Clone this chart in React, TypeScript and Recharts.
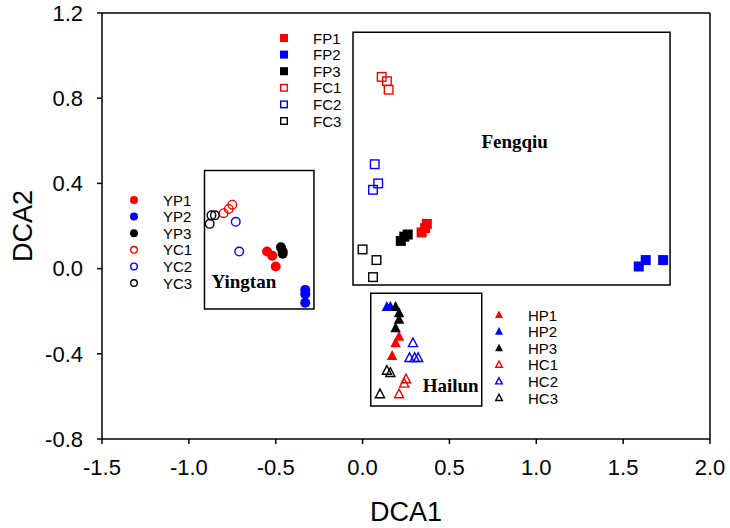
import React from "react"
import {
    ScatterChart,
    Scatter,
    XAxis,
    YAxis,
    ReferenceArea,
    ReferenceLine,
} from "recharts"

type Pt = { x: number; y: number }
const pts = (arr: number[][]): Pt[] => arr.map(([x, y]) => ({ x, y }))

// axis ticks
const xTicks = [-1.5, -1.0, -0.5, 0.0, 0.5, 1.0, 1.5, 2.0]
const yTicks = [-0.8, -0.4, 0.0, 0.4, 0.8, 1.2]

// Yingtan
const YP1 = pts([[-0.55, 0.08], [-0.52, 0.06], [-0.5, 0.01]])
const YP2 = pts([[-0.33, -0.1], [-0.33, -0.12], [-0.33, -0.16]])
const YP3 = pts([[-0.47, 0.1], [-0.46, 0.08], [-0.46, 0.07]])
const YC1 = pts([[-0.75, 0.3], [-0.77, 0.28], [-0.8, 0.26]])
const YC2 = pts([[-0.73, 0.22], [-0.71, 0.08]])
const YC3 = pts([[-0.88, 0.21], [-0.87, 0.25], [-0.85, 0.25]])

// Fengqiu
const FP1 = pts([[0.34, 0.17], [0.36, 0.19], [0.37, 0.21]])
const FP2 = pts([[1.59, 0.01], [1.63, 0.04], [1.73, 0.04]])
const FP3 = pts([[0.22, 0.13], [0.24, 0.15], [0.26, 0.16]])
const FC1 = pts([[0.11, 0.9], [0.14, 0.88], [0.15, 0.84]])
const FC2 = pts([[0.07, 0.49], [0.09, 0.4], [0.06, 0.37]])
const FC3 = pts([[0.0, 0.09], [0.08, 0.04], [0.06, -0.04]])

// Hailun
const HP1 = pts([[0.21, -0.32], [0.19, -0.35], [0.17, -0.41]])
const HP2 = pts([[0.14, -0.18], [0.16, -0.18]])
const HP3 = pts([[0.19, -0.18], [0.21, -0.21], [0.21, -0.24], [0.19, -0.28]])
const HC1 = pts([[0.25, -0.52], [0.24, -0.54], [0.21, -0.59]])
const HC2 = pts([[0.29, -0.35], [0.27, -0.42], [0.3, -0.42], [0.32, -0.42]])
const HC3 = pts([[0.14, -0.48], [0.16, -0.49], [0.1, -0.59]])

const RED = "#ff0000"
const BLUE = "#0000ff"
const BLACK = "#000000"

type Kind = "circle" | "square" | "triangle"
type Series = { name: string; data: Pt[]; kind: Kind; color: string; open: boolean }

const yingtan: Series[] = [
    { name: "YP1", data: YP1, kind: "circle", color: RED, open: false },
    { name: "YP2", data: YP2, kind: "circle", color: BLUE, open: false },
    { name: "YP3", data: YP3, kind: "circle", color: BLACK, open: false },
    { name: "YC1", data: YC1, kind: "circle", color: RED, open: true },
    { name: "YC2", data: YC2, kind: "circle", color: BLUE, open: true },
    { name: "YC3", data: YC3, kind: "circle", color: BLACK, open: true },
]
const fengqiu: Series[] = [
    { name: "FP1", data: FP1, kind: "square", color: RED, open: false },
    { name: "FP2", data: FP2, kind: "square", color: BLUE, open: false },
    { name: "FP3", data: FP3, kind: "square", color: BLACK, open: false },
    { name: "FC1", data: FC1, kind: "square", color: RED, open: true },
    { name: "FC2", data: FC2, kind: "square", color: BLUE, open: true },
    { name: "FC3", data: FC3, kind: "square", color: BLACK, open: true },
]
const hailun: Series[] = [
    { name: "HP1", data: HP1, kind: "triangle", color: RED, open: false },
    { name: "HP2", data: HP2, kind: "triangle", color: BLUE, open: false },
    { name: "HP3", data: HP3, kind: "triangle", color: BLACK, open: false },
    { name: "HC1", data: HC1, kind: "triangle", color: RED, open: true },
    { name: "HC2", data: HC2, kind: "triangle", color: BLUE, open: true },
    { name: "HC3", data: HC3, kind: "triangle", color: BLACK, open: true },
]
const allSeries = [...yingtan, ...fengqiu, ...hailun]

function Marker({ cx, cy, kind, color, open, size }: {
    cx: number; cy: number; kind: Kind; color: string; open: boolean; size: number
}) {
    if (cx == null || cy == null) return null
    const fill = open ? "#ffffff" : color
    const sw = open ? 1.4 : 0
    const s = open ? size - 1.4 : size
    if (kind === "circle") {
        return <circle cx={cx} cy={cy} r={s / 2} fill={fill} stroke={color} strokeWidth={sw} fillOpacity={open ? 0 : 1} />
    }
    if (kind === "square") {
        return <rect x={cx - s / 2} y={cy - s / 2} width={s} height={s} fill={fill} stroke={color} strokeWidth={sw} fillOpacity={open ? 0 : 1} />
    }
    const h = s * 0.95
    const p = `${cx},${cy - h * 0.6} ${cx - s / 2},${cy + h * 0.4} ${cx + s / 2},${cy + h * 0.4}`
    return <polygon points={p} fill={fill} stroke={color} strokeWidth={sw} fillOpacity={open ? 0 : 1} />
}

const boxLabel = (text: string, fx: number, fy: number) => (props: any) => {
    const { x, y, width, height } = props.viewBox
    return (
        <text
            x={x + width * fx}
            y={y + height * fy}
            textAnchor="middle"
            fontFamily="'Liberation Serif', 'Times New Roman', serif"
            fontWeight="bold"
            fontSize={19}
            fill="#000"
        >
            {text}
        </text>
    )
}

function LegendGroup({ series, left, top }: { series: Series[]; left: number; top: number }) {
    const step = 16.6
    return (
        <g>
            {series.map((s, i) => (
                <g key={s.name}>
                    <Marker cx={left} cy={top + i * step} kind={s.kind} color={s.color} open={s.open} size={8} />
                    <text
                        x={left + 29}
                        y={top + i * step}
                        dominantBaseline="central"
                        fontFamily="'Liberation Sans', Arial, sans-serif"
                        fontSize={15}
                        fill="#000"
                    >
                        {s.name}
                    </text>
                </g>
            ))}
        </g>
    )
}

const axisFont = { fontFamily: "'Liberation Sans', Arial, sans-serif", fontSize: 22, fill: "#000" }

export default function App() {
    return (
        <div style={{ position: "absolute", left: 0, top: 0, width: 730, height: 528, background: "#fff" }}>
            <ScatterChart
                width={730}
                height={528}
                margin={{ top: 13, right: 20, left: 0, bottom: 0 }}
            >
                <XAxis
                    type="number"
                    dataKey="x"
                    domain={[-1.5, 2]}
                    ticks={xTicks}
                    interval={0}
                    allowDataOverflow
                    height={89}
                    tickSize={5}
                    tickMargin={15}
                    tickFormatter={(v: number) => v.toFixed(1)}
                    tick={axisFont}
                    stroke="#000"
                    axisLine={{ stroke: "#000", strokeWidth: 1.5 }}
                    tickLine={{ stroke: "#000", strokeWidth: 1.5 }}
                    label={{ value: "DCA1", position: "center", dy: 28, style: { ...axisFont, fontSize: 27 } }}
                />
                <YAxis
                    type="number"
                    dataKey="y"
                    domain={[-0.8, 1.2]}
                    ticks={yTicks}
                    interval={0}
                    allowDataOverflow
                    width={102}
                    tickSize={5}
                    tickMargin={14}
                    tickFormatter={(v: number) => v.toFixed(1)}
                    tick={axisFont}
                    stroke="#000"
                    axisLine={{ stroke: "#000", strokeWidth: 1.5 }}
                    tickLine={{ stroke: "#000", strokeWidth: 1.5 }}
                    label={{ value: "DCA2", position: "center", angle: -90, dx: -29, style: { ...axisFont, fontSize: 27 } }}
                />
                <ReferenceLine y={1.2} stroke="#000" strokeWidth={1.5} />
                <ReferenceLine x={2} stroke="#000" strokeWidth={1.5} />
                <ReferenceArea x1={-0.91} x2={-0.28} y1={-0.19} y2={0.46} fill="none" stroke="#000" strokeWidth={1.5} fillOpacity={0}
                    label={boxLabel("Yingtan", 0.36, 0.85)} />
                <ReferenceArea x1={-0.055} x2={1.77} y1={-0.077} y2={1.11} fill="none" stroke="#000" strokeWidth={1.5} fillOpacity={0}
                    label={boxLabel("Fengqiu", 0.51, 0.46)} />
                <ReferenceArea x1={0.047} x2={0.686} y1={-0.645} y2={-0.116} fill="none" stroke="#000" strokeWidth={1.5} fillOpacity={0}
                    label={boxLabel("Hailun", 0.72, 0.88)} />
                {allSeries.map((s) => (
                    <Scatter
                        key={s.name}
                        name={s.name}
                        data={s.data}
                        isAnimationActive={false}
                        shape={(p: any) => (
                            <Marker cx={p.cx} cy={p.cy} kind={s.kind} color={s.color} open={s.open}
                                size={s.kind === "triangle" ? 10.5 : 10} />
                        )}
                    />
                ))}
            </ScatterChart>
            <svg width={730} height={528} style={{ position: "absolute", left: 0, top: 0, pointerEvents: "none" }}>
                <LegendGroup series={yingtan} left={134} top={200} />
                <LegendGroup series={fengqiu} left={284} top={38} />
                <LegendGroup series={hailun} left={499} top={315} />
            </svg>
        </div>
    )
}
